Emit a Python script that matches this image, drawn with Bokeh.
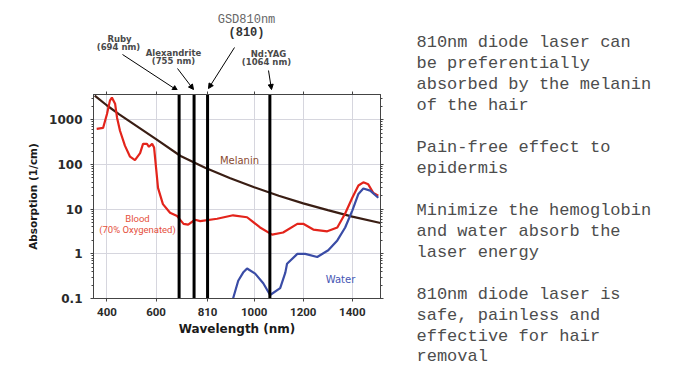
from bokeh.plotting import figure
from bokeh.layouts import row, column
from bokeh.models import Label, Arrow, NormalHead, FixedTicker, LinearAxis, LogAxis, Range1d
from bokeh.embed import file_html
from bokeh.resources import INLINE

# ---------------- data ----------------
melanin_nm = [350, 400, 450, 500, 600, 700, 800, 900, 1000, 1100, 1200, 1300, 1400, 1515]
melanin_abs = [3500, 2100, 1330, 870, 370, 155, 85, 50, 31, 20, 13.5, 9.5, 6.8, 4.9]

blood_nm = [358, 384, 400, 412, 420, 433, 441, 453, 473, 494, 514, 535, 547, 563, 571, 584,
            592, 600, 608, 628, 657, 686, 712, 731, 759, 780, 849, 914, 971, 1024, 1073, 1118,
            1176, 1200, 1241, 1298, 1339, 1371, 1400, 1425, 1445, 1465, 1486, 1506]
blood_abs = [630, 660, 1350, 2700, 3150, 2300, 1120, 570, 265, 150, 126, 180, 290, 290, 250, 290,
             240, 85, 30, 13, 8.3, 7, 4.7, 4.5, 5.8, 5.4, 6.1, 7.3, 6.6, 3.9, 2.7, 3.0,
             4.7, 4.7, 3.5, 3.2, 3.9, 8, 18, 34, 40, 36, 23, 20]

water_nm = [914, 935, 955, 971, 1004, 1037, 1065, 1106, 1127, 1134, 1176, 1208, 1257, 1302,
            1339, 1371, 1400, 1425, 1445, 1473, 1506]
water_abs = [0.1, 0.25, 0.38, 0.47, 0.36, 0.22, 0.12, 0.17, 0.38, 0.6, 1.0, 1.0, 0.85, 1.2,
             2.0, 3.9, 9.3, 22, 29, 26, 18]

laser_nm = [694, 755, 810, 1064]

x_ticks = [400, 600, 810, 1000, 1200, 1400]
x_tick_labels = ["400", "600", "810", "1000", "1200", "1400"]
y_ticks = [0.1, 1, 10, 100, 1000]
y_tick_labels = ["0.1", "1", "10", "100", "1000"]

info_lines = ["810nm diode laser can", "be preferentially", "absorbed by the melanin",
              "of the hair", "", "Pain-free effect to", "epidermis", "",
              "Minimize the hemoglobin", "and water absorb the", "laser energy", "",
              "810nm diode laser is", "safe, painless and", "effective for hair", "removal"]

# ---------------- layout constants ----------------
LW = 400            # width of chart column
TH = 90             # height of annotation strip above chart
MH = 383 - TH       # height of main chart figure
FL, FR, FT, FB = 93, 380, 94, 298   # frame edges in page pixels
BASE_FIX = 3.5      # baseline correction for labels

xr = Range1d(345, 1515)


def add_label(fig, ox, oy, text, px, py, size, color, font="DejaVu Sans", style="normal",
              align="center"):
    fig.add_layout(Label(x=px - ox, y=oy - py + BASE_FIX, x_units="screen", y_units="screen",
                         text=text, text_align=align, text_baseline="alphabetic",
                         text_font_size=size, text_font=font, text_font_style=style,
                         text_color=color))


# ---------------- top annotation strip ----------------
top = figure(width=LW, height=TH, x_range=xr, y_range=Range1d(0, TH), output_backend="svg",
             toolbar_location=None, x_axis_location=None, y_axis_location=None,
             min_border_left=FL, min_border_right=LW - FR, min_border_top=0, min_border_bottom=0)
top.grid.visible = False
top.outline_line_color = None


def tlab(*a, **k):
    add_label(top, FL, TH, *a, **k)


ann = "#4a4a4a"
tlab("Ruby", 119, 42, "8.5px", ann, style="bold")
tlab("(694 nm)", 118, 50, "8.5px", ann, style="bold")
tlab("Alexandrite", 173, 56, "8.5px", ann, style="bold")
tlab("(755 nm)", 173, 64, "8.5px", ann, style="bold")
tlab("Nd:YAG", 268, 57, "8.5px", ann, style="bold")
tlab("(1064 nm)", 266, 65, "8.5px", ann, style="bold")
tlab("GSD810nm", 246, 23, "12px", "#666666", font="Liberation Mono")
tlab("(810)", 246, 36, "12px", "#333333", font="Liberation Mono", style="bold")

arrows = [((122, 54), (177, 90)), ((177, 68), (193, 89)), ((234, 47), (208, 88)), ((268, 70), (271, 89))]
for (x0, y0), (x1, y1) in arrows:
    top.add_layout(Arrow(end=NormalHead(size=5, fill_color="black", line_color="black"),
                         x_start=x0 - FL, y_start=TH - y0, x_end=x1 - FL, y_end=TH - y1,
                         start_units="screen", end_units="screen", line_width=1, line_color="black"))

# ---------------- main chart ----------------
y_minor = [m * 10.0 ** e for e in range(-1, 4) for m in range(2, 10) if m * 10.0 ** e < 3700]

p = figure(width=LW, height=MH, x_range=xr, y_range=(0.1, 3700), y_axis_type="log",
           output_backend="svg", toolbar_location=None,
           min_border_left=FL, min_border_right=LW - FR, min_border_top=FT - TH,
           min_border_bottom=383 - FB)
p.background_fill_color = "white"
p.border_fill_color = "white"
p.outline_line_color = "#444444"
p.outline_line_width = 1

xt = FixedTicker(ticks=x_ticks)
yt = FixedTicker(ticks=y_ticks, minor_ticks=y_minor)
p.xaxis.ticker = xt
p.yaxis.ticker = yt
p.xgrid.ticker = xt
p.ygrid.ticker = yt
p.xgrid.grid_line_color = "#d6d6de"
p.ygrid.grid_line_color = "#d6d6de"
p.xaxis.major_label_overrides = dict(zip(x_ticks, x_tick_labels))
p.yaxis.major_label_overrides = dict(zip(y_ticks, y_tick_labels))

for ax in (p.xaxis[0], p.yaxis[0]):
    ax.axis_line_color = "#444444"
    ax.major_tick_line_color = "#444444"
    ax.minor_tick_line_color = "#444444"
    ax.major_tick_in = 0
    ax.major_tick_out = 3
    ax.minor_tick_in = 0
    ax.minor_tick_out = 2
    ax.major_label_text_color = "#2a2a2a"
    ax.axis_label_text_color = "#1a1a1a"
    ax.axis_label_text_font_style = "bold"
    ax.major_label_text_font_style = "bold"

p.xaxis.minor_tick_line_color = None
p.xaxis.axis_label = "Wavelength (nm)"
p.xaxis.axis_label_text_font = "DejaVu Sans"
p.xaxis.axis_label_text_font_size = "12px"
p.xaxis.major_label_text_font = "Roboto"
p.xaxis.major_label_text_font_size = "11.5px"
p.xaxis.major_label_standoff = 6
p.xaxis.axis_label_standoff = 3

p.yaxis.axis_label = "Absorption (1/cm)"
p.yaxis.axis_label_text_font = "DejaVu Sans"
p.yaxis.axis_label_text_font_size = "10.5px"
p.yaxis.major_label_text_font = "DejaVu Sans"
p.yaxis.major_label_text_font_size = "12px"
p.yaxis.major_label_standoff = 8
p.yaxis.axis_label_standoff = 7

top_ax = LinearAxis(ticker=xt, major_label_text_color=None, major_label_text_font_size="1px",
                    major_label_standoff=0, major_tick_in=0, major_tick_out=3,
                    axis_line_color="#444444", major_tick_line_color="#444444", minor_tick_line_color=None)
right_ax = LogAxis(ticker=yt, major_label_text_color=None, major_label_text_font_size="1px",
                   major_label_standoff=0, major_tick_in=0, major_tick_out=3,
                   minor_tick_in=0, minor_tick_out=2,
                   axis_line_color="#444444", major_tick_line_color="#444444", minor_tick_line_color="#444444")
p.add_layout(top_ax, "above")
p.add_layout(right_ax, "right")

p.line(melanin_nm, melanin_abs, line_color="#3a1e14", line_width=2.2)
p.line(blood_nm, blood_abs, line_color="#e3241b", line_width=2.2)
p.line(water_nm, water_abs, line_color="#3a4ca6", line_width=2.2)

p.segment(x0=laser_nm, y0=[0.1] * len(laser_nm), x1=laser_nm, y1=[3700] * len(laser_nm),
          line_color="black", line_width=3)


def mlab(*a, **k):
    add_label(p, FL, FB, *a, **k)


mlab("Blood", 137, 221, "9.5px", "#e5503c", font="Roboto")
mlab("(70% Oxygenated)", 137, 232, "9.5px", "#e5503c", font="Roboto")
mlab("Melanin", 239, 163, "10px", "#8a4a30")
mlab("Water", 340, 282, "10px", "#4656b4")

# ---------------- right-hand text ----------------
txt = figure(width=680 - LW, height=383, x_range=(0, 1), y_range=(0, 1), output_backend="svg",
             toolbar_location=None, x_axis_location=None, y_axis_location=None,
             min_border_left=0, min_border_right=0, min_border_top=0, min_border_bottom=0)
txt.grid.visible = False
txt.outline_line_color = None

for i, line in enumerate(info_lines):
    if line:
        add_label(txt, LW, 383, line, 416, 45.7 + i * 20.95, "17px", "#4d4d4d",
                  font="Liberation Mono", align="left")

layout = row(column(top, p), txt)
open("out.html", "w").write(file_html(layout, INLINE))
